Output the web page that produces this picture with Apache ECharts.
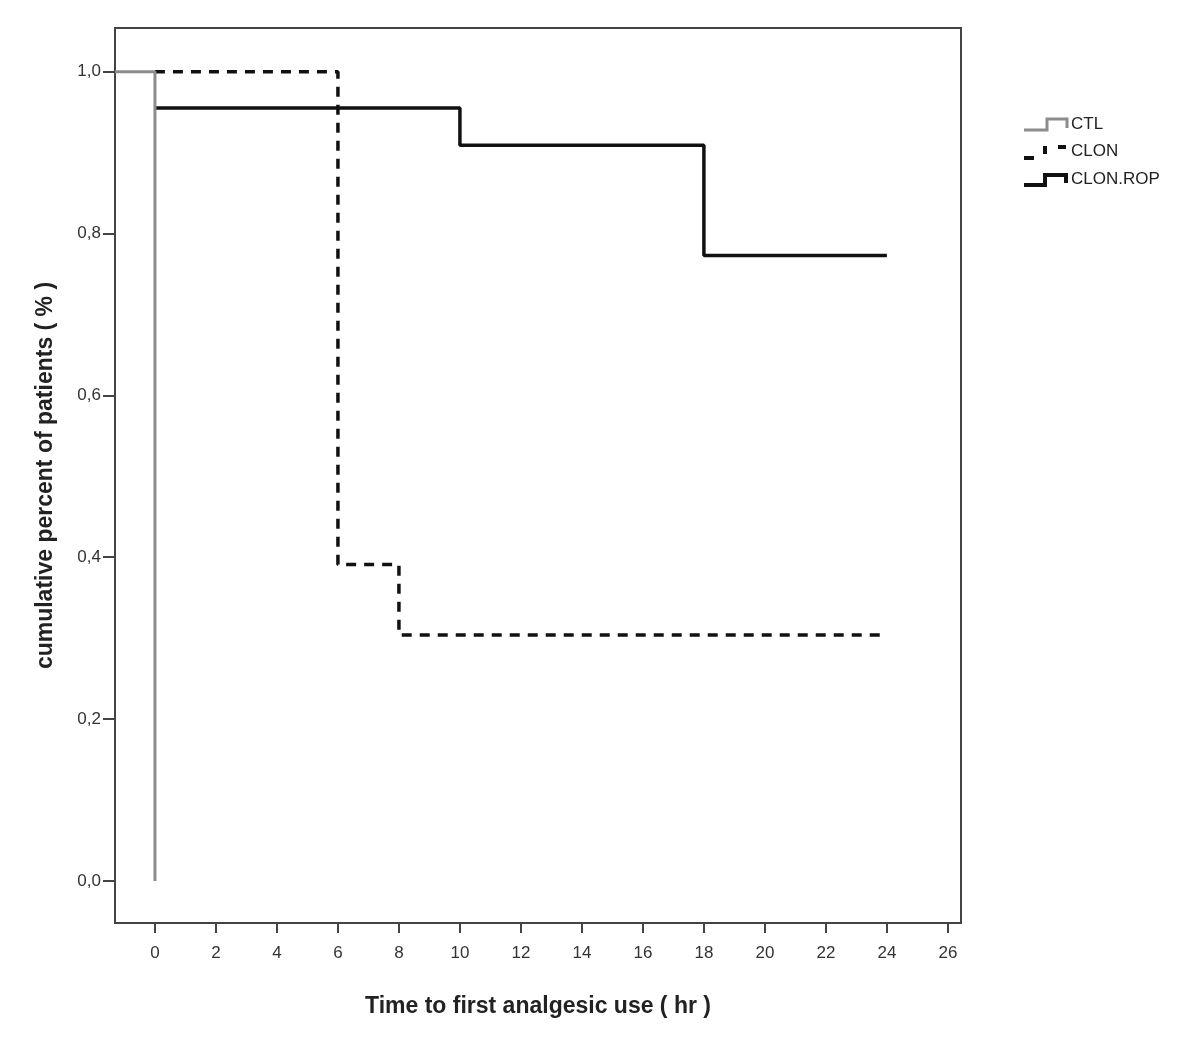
<!DOCTYPE html>
<html><head><meta charset="utf-8">
<script src="https://cdn.jsdelivr.net/npm/echarts@6/dist/echarts.min.js"></script>
<style>html,body{margin:0;padding:0;background:#fff}#c{width:1200px;height:1051px}</style>
</head><body><div id="c"></div>
<script>
// Data (Kaplan-Meier steps: [time hr, cumulative proportion])
const ctl = [[-1.31, 1.0], [0, 1.0], [0, 0.0]];
const clon = [[0, 1.0], [6, 1.0], [6, 0.391], [8, 0.391], [8, 0.304], [24, 0.304]];
const clonRop = [[0, 0.955], [10, 0.955], [10, 0.909], [18, 0.909], [18, 0.773], [24, 0.773]];
const xTicks = [0, 2, 4, 6, 8, 10, 12, 14, 16, 18, 20, 22, 24, 26];
const yTicks = [0, 0.2, 0.4, 0.6, 0.8, 1.0];
const seriesNames = ['CTL', 'CLON', 'CLON.ROP'];

const chart = echarts.init(document.getElementById('c'));
const font = 'Liberation Sans, Arial, sans-serif';
chart.setOption({
  animation: false,
  backgroundColor: '#fff',
  grid: { left: 115, top: 28, width: 846, height: 895, show: true, borderColor: '#444', borderWidth: 2, containLabel: false },
  xAxis: {
    type: 'value', min: -1.31, max: 26.43, position: 'bottom',
    name: 'Time to first analgesic use ( hr )', nameLocation: 'middle', nameGap: 72,
    nameTextStyle: { fontFamily: font, fontWeight: 'bold', fontSize: 23, color: '#222' },
    axisLine: { show: false, onZero: false },
    splitLine: { show: false },
    axisTick: { show: true, inside: false, length: 10, lineStyle: { color: '#444', width: 2 }, customValues: xTicks },
    axisLabel: { customValues: xTicks, margin: 22, fontFamily: font, fontSize: 17, color: '#333' }
  },
  yAxis: {
    type: 'value', min: -0.052, max: 1.054, position: 'left',
    name: 'cumulative percent of patients ( % )', nameLocation: 'middle', nameGap: 58,
    nameTextStyle: { fontFamily: font, fontWeight: 'bold', fontSize: 23, color: '#222' },
    axisLine: { show: false, onZero: false },
    splitLine: { show: false },
    axisTick: { show: true, inside: false, length: 12, lineStyle: { color: '#444', width: 2 }, customValues: yTicks },
    axisLabel: { customValues: yTicks, margin: 14, fontFamily: font, fontSize: 17, color: '#333',
      formatter: v => v.toFixed(1).replace('.', ',') }
  },
  series: [
    { name: seriesNames[0], type: 'line', data: ctl, symbol: 'none', lineStyle: { color: '#8c8c8c', width: 3 }, z: 3 },
    { name: seriesNames[1], type: 'line', data: clon, symbol: 'none', lineStyle: { color: '#111', width: 3.5, type: [10, 8] }, z: 2 },
    { name: seriesNames[2], type: 'line', data: clonRop, symbol: 'none', lineStyle: { color: '#111', width: 3.5 }, z: 2 }
  ],
  graphic: [
    { type: 'polyline', shape: { points: [[1024,130],[1047,130],[1047,119],[1067,119],[1067,128]] }, style: { stroke: '#8c8c8c', lineWidth: 3, fill: null } },
    { type: 'polyline', shape: { points: [[1024,158],[1034,158]] }, style: { stroke: '#111', lineWidth: 4, fill: null } },
    { type: 'polyline', shape: { points: [[1045,146],[1045,154]] }, style: { stroke: '#111', lineWidth: 4, fill: null } },
    { type: 'polyline', shape: { points: [[1058,147],[1066,147]] }, style: { stroke: '#111', lineWidth: 4, fill: null } },
    { type: 'polyline', shape: { points: [[1024,185],[1045,185],[1045,175],[1066,175],[1066,183]] }, style: { stroke: '#111', lineWidth: 4, fill: null } },
    { type: 'text', left: 1071, top: 116, style: { text: seriesNames[0], font: '17px ' + font, fill: '#222' } },
    { type: 'text', left: 1071, top: 143, style: { text: seriesNames[1], font: '17px ' + font, fill: '#222' } },
    { type: 'text', left: 1071, top: 171, style: { text: seriesNames[2], font: '17px ' + font, fill: '#222' } }
  ]
});
</script></body></html>
